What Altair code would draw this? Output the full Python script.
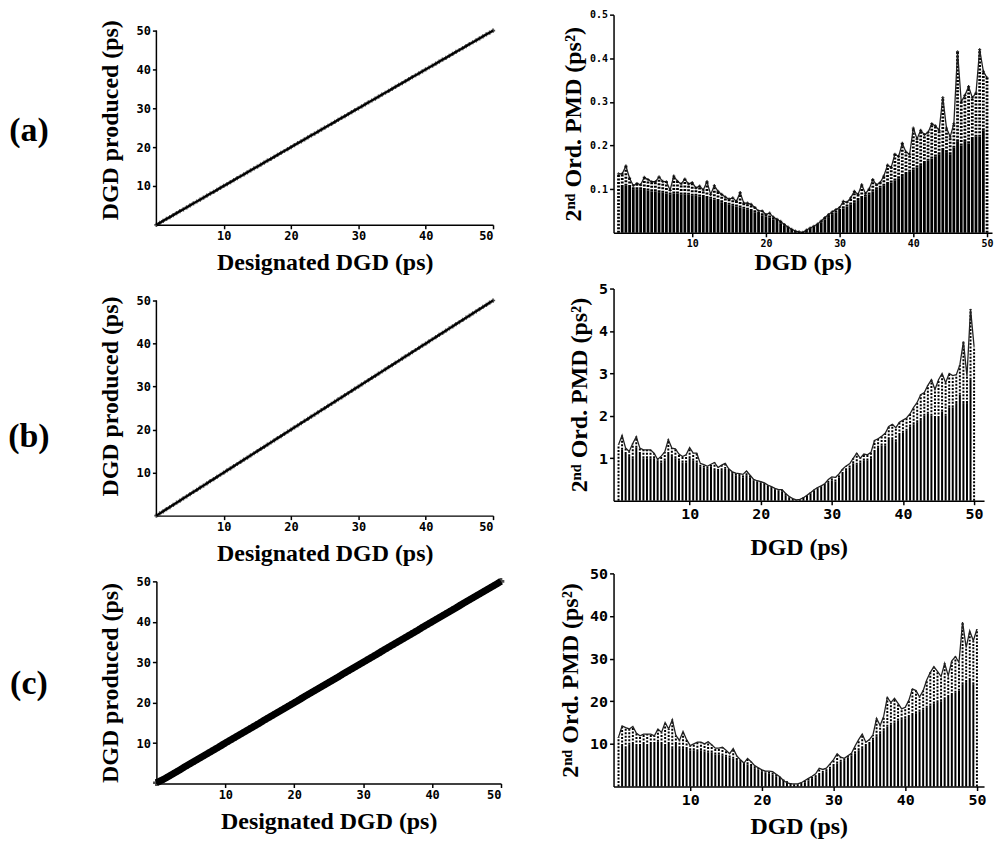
import altair as alt
import pandas as pd

# ---- shared DGD grid (ps) ----
dgd_grid = [0.0, 0.5, 1.0, 1.5, 2.0, 2.5, 3.0, 3.5, 4.0, 4.5, 5.0, 5.5, 6.0, 6.5, 7.0, 7.5, 8.0, 8.5, 9.0, 9.5,
            10.0, 10.5, 11.0, 11.5, 12.0, 12.5, 13.0, 13.5, 14.0, 14.5, 15.0, 15.5, 16.0, 16.5, 17.0, 17.5, 18.0, 18.5, 19.0, 19.5,
            20.0, 20.5, 21.0, 21.5, 22.0, 22.5, 23.0, 23.5, 24.0, 24.5, 25.0, 25.5, 26.0, 26.5, 27.0, 27.5, 28.0, 28.5, 29.0, 29.5,
            30.0, 30.5, 31.0, 31.5, 32.0, 32.5, 33.0, 33.5, 34.0, 34.5, 35.0, 35.5, 36.0, 36.5, 37.0, 37.5, 38.0, 38.5, 39.0, 39.5,
            40.0, 40.5, 41.0, 41.5, 42.0, 42.5, 43.0, 43.5, 44.0, 44.5, 45.0, 45.5, 46.0, 46.5, 47.0, 47.5, 48.0, 48.5, 49.0, 49.5, 50.0]

# ---- left panels: DGD produced vs designated ----
produced_a = [0.0, 0.5, 1.0, 1.5, 2.0, 2.5, 3.0, 3.5, 4.0, 4.5, 5.0, 5.5, 6.0, 6.5, 7.0, 7.5, 8.0, 8.5, 9.0, 9.5,
              10.0, 10.5, 11.0, 11.5, 12.0, 12.5, 13.0, 13.5, 14.0, 14.5, 15.0, 15.5, 16.0, 16.5, 17.0, 17.5, 18.0, 18.5, 19.0, 19.5,
              20.0, 20.5, 21.0, 21.5, 22.0, 22.5, 23.0, 23.5, 24.0, 24.5, 25.0, 25.5, 26.0, 26.5, 27.0, 27.5, 28.0, 28.5, 29.0, 29.5,
              30.0, 30.5, 31.0, 31.5, 32.0, 32.5, 33.0, 33.5, 34.0, 34.5, 35.0, 35.5, 36.0, 36.5, 37.0, 37.5, 38.0, 38.5, 39.0, 39.5,
              40.0, 40.5, 41.0, 41.5, 42.0, 42.5, 43.0, 43.5, 44.0, 44.5, 45.0, 45.5, 46.0, 46.5, 47.0, 47.5, 48.0, 48.5, 49.0, 49.5, 50.0]
produced_b = [0.0, 0.5, 1.0, 1.5, 2.0, 2.5, 3.0, 3.5, 4.0, 4.5, 5.0, 5.5, 6.0, 6.5, 7.0, 7.5, 8.0, 8.5, 9.0, 9.5,
              10.0, 10.5, 11.0, 11.5, 12.0, 12.5, 13.0, 13.5, 14.0, 14.5, 15.0, 15.5, 16.0, 16.5, 17.0, 17.5, 18.0, 18.5, 19.0, 19.5,
              20.0, 20.5, 21.0, 21.5, 22.0, 22.5, 23.0, 23.5, 24.0, 24.5, 25.0, 25.5, 26.0, 26.5, 27.0, 27.5, 28.0, 28.5, 29.0, 29.5,
              30.0, 30.5, 31.0, 31.5, 32.0, 32.5, 33.0, 33.5, 34.0, 34.5, 35.0, 35.5, 36.0, 36.5, 37.0, 37.5, 38.0, 38.5, 39.0, 39.5,
              40.0, 40.5, 41.0, 41.5, 42.0, 42.5, 43.0, 43.5, 44.0, 44.5, 45.0, 45.5, 46.0, 46.5, 47.0, 47.5, 48.0, 48.5, 49.0, 49.5, 50.0]
produced_c = [0.2, 0.6, 1.0, 1.5, 2.0, 2.5, 3.0, 3.5, 4.0, 4.5, 5.0, 5.5, 6.0, 6.5, 7.0, 7.5, 8.0, 8.5, 9.0, 9.5,
              10.0, 10.5, 11.0, 11.5, 12.0, 12.5, 13.0, 13.5, 14.0, 14.5, 15.0, 15.5, 16.0, 16.5, 17.0, 17.5, 18.0, 18.5, 19.0, 19.5,
              20.0, 20.5, 21.0, 21.5, 22.0, 22.5, 23.0, 23.5, 24.0, 24.5, 25.0, 25.5, 26.0, 26.5, 27.0, 27.5, 28.0, 28.5, 29.0, 29.5,
              30.0, 30.5, 31.0, 31.5, 32.0, 32.5, 33.0, 33.5, 34.0, 34.5, 35.0, 35.5, 36.0, 36.5, 37.0, 37.5, 38.0, 38.5, 39.0, 39.5,
              40.0, 40.5, 41.0, 41.5, 42.0, 42.5, 43.0, 43.5, 44.0, 44.5, 45.0, 45.5, 46.0, 46.5, 47.0, 47.5, 48.0, 48.5, 49.0, 49.5, 50.0]

# ---- right panels: 2nd order PMD, maximum (envelope) and bulk of the samples ----
env_a = [0.135, 0.135, 0.153, 0.125, 0.108, 0.113, 0.110, 0.127, 0.122, 0.117, 0.117, 0.128, 0.118, 0.117, 0.098, 0.130,
         0.118, 0.112, 0.123, 0.112, 0.115, 0.103, 0.107, 0.098, 0.117, 0.088, 0.108, 0.095, 0.088, 0.082, 0.077, 0.080,
         0.072, 0.092, 0.068, 0.068, 0.065, 0.058, 0.050, 0.050, 0.042, 0.045, 0.036, 0.031, 0.026, 0.019, 0.013, 0.008,
         0.004, 0.002, 0.001, 0.006, 0.011, 0.015, 0.020, 0.027, 0.035, 0.042, 0.048, 0.053, 0.058, 0.072, 0.070, 0.080,
         0.095, 0.088, 0.110, 0.090, 0.100, 0.122, 0.110, 0.115, 0.130, 0.155, 0.150, 0.180, 0.175, 0.205, 0.185, 0.180,
         0.240, 0.215, 0.235, 0.225, 0.230, 0.250, 0.245, 0.235, 0.310, 0.240, 0.220, 0.250, 0.415, 0.300, 0.315, 0.335,
         0.310, 0.320, 0.420, 0.370, 0.355]
bulk_a = [0.0, 0.105, 0.108, 0.105, 0.100, 0.100, 0.100, 0.098, 0.097, 0.095, 0.095, 0.093, 0.092, 0.090, 0.088,
          0.090, 0.090, 0.088, 0.088, 0.087, 0.085, 0.085, 0.083, 0.082, 0.080, 0.078,
          0.076, 0.073, 0.070, 0.066, 0.064, 0.062, 0.060, 0.058, 0.055, 0.053, 0.050, 0.047, 0.043,
          0.040, 0.037, 0.035, 0.030, 0.027, 0.022, 0.017, 0.012, 0.007, 0.004, 0.002, 0.001,
          0.005, 0.010, 0.014, 0.018, 0.024, 0.030, 0.036, 0.041, 0.046, 0.050,
          0.056, 0.060, 0.065, 0.070, 0.075, 0.080, 0.083, 0.088, 0.095, 0.100,
          0.103, 0.108, 0.112, 0.115, 0.120, 0.125, 0.130, 0.135, 0.140, 0.145,
          0.150, 0.155, 0.160, 0.165, 0.170, 0.175, 0.180, 0.190, 0.185, 0.180,
          0.195, 0.210, 0.200, 0.210, 0.205, 0.215, 0.220, 0.220, 0.235, 0.0]

env_b = [1.32, 1.54, 1.24, 1.16, 1.35, 1.51, 1.24, 1.20, 1.20, 1.20, 1.12, 0.97, 1.05, 1.15, 1.44, 1.24, 1.22, 1.10, 1.04, 1.08,
         1.25, 1.12, 1.12, 0.88, 0.85, 0.81, 0.86, 0.90, 0.78, 0.84, 0.88, 0.75, 0.68, 0.65, 0.64, 0.62, 0.70, 0.60, 0.50, 0.47,
         0.45, 0.42, 0.37, 0.33, 0.29, 0.26, 0.26, 0.17, 0.10, 0.05, 0.02,
         0.03, 0.07, 0.13, 0.19, 0.26, 0.31, 0.35, 0.40, 0.50, 0.56,
         0.55, 0.63, 0.74, 0.82, 0.87, 1.00, 1.12, 1.00, 1.10, 1.08,
         1.14, 1.42, 1.46, 1.52, 1.59, 1.75, 1.80, 1.72, 1.85, 1.90,
         1.95, 2.05, 2.20, 2.32, 2.50, 2.55, 2.72, 2.85, 2.62, 2.85,
         3.00, 2.78, 3.00, 2.95, 2.97, 3.20, 3.75, 2.93, 4.52, 3.63]
bulk_b = [0.0, 1.20, 1.10, 1.05, 1.00, 1.25, 1.10, 1.00, 1.00, 1.00, 1.00,
          0.95, 0.90, 0.95, 1.10, 1.05, 1.00, 0.95, 0.90, 0.90, 1.00,
          0.95, 0.90, 0.80, 0.78, 0.75, 0.80, 0.72, 0.70, 0.72, 0.75,
          0.70, 0.65, 0.60, 0.58, 0.55, 0.60, 0.55, 0.48, 0.45, 0.43,
          0.40, 0.36, 0.32, 0.27, 0.24, 0.22, 0.13, 0.08, 0.04, 0.01,
          0.02, 0.08, 0.13, 0.17, 0.24, 0.28, 0.33, 0.37, 0.42, 0.48,
          0.45, 0.55, 0.63, 0.72, 0.78, 0.88, 0.85, 0.90, 0.95, 0.95,
          1.00, 1.15, 1.25, 1.30, 1.30, 1.45, 1.45, 1.40, 1.55, 1.60,
          1.65, 1.75, 1.80, 1.85, 1.90, 2.00, 2.05, 2.00, 1.95, 1.95,
          2.10, 2.00, 2.20, 2.20, 2.30, 2.50, 2.30, 2.30, 2.85, 0.0]

env_c = [11.6, 14.2, 13.8, 13.5, 14.1, 12.5, 11.9, 12.3, 12.3, 12.3, 11.9, 13.5, 12.7, 15.0, 13.5, 15.7, 12.0, 10.8, 12.9, 11.0,
         9.6, 10.0, 10.4, 10.4, 10.0, 10.5, 9.8, 9.0, 9.0, 9.2, 8.5, 7.7, 8.9, 7.2, 6.3, 5.5, 6.6, 5.8, 4.9, 4.4,
         3.9, 3.6, 3.6, 3.5, 2.9, 2.3, 1.4, 0.9, 0.6, 0.6, 0.6, 0.9, 1.4, 1.9, 2.4, 3.0, 4.3, 4.0, 4.3, 5.3,
         6.3, 7.7, 6.9, 6.6, 7.2, 7.8, 9.5, 11.0, 12.3, 10.4, 11.0, 12.1, 16.0, 14.3, 16.5, 20.9, 19.7, 20.7, 19.5, 18.2,
         18.6, 20.2, 22.9, 22.5, 21.0, 22.5, 25.0, 26.8, 28.1, 27.0, 25.8, 28.9, 26.0, 29.5, 30.5, 29.1, 38.6, 32.6, 36.5, 34.2, 36.9]
bulk_c = [0.0, 9.5, 9.0, 9.8, 10.0, 9.5, 9.5, 10.0, 9.5, 10.0, 10.0,
          10.5, 10.0, 9.5, 10.0, 9.0, 10.0, 9.0, 9.0, 8.8, 8.5,
          8.5, 8.3, 8.5, 8.2, 8.0, 8.0, 7.5, 7.5, 7.3, 7.0,
          6.8, 6.5, 6.2, 5.8, 5.5, 5.2, 4.8, 4.3, 4.0, 3.6,
          3.3, 3.0, 2.8, 2.4, 2.0, 1.6, 1.2, 0.8, 0.5, 0.4,
          0.6, 1.0, 1.4, 1.8, 2.2, 2.7, 3.2, 3.6, 4.2, 4.8,
          5.4, 5.8, 6.2, 6.8, 7.3, 7.8, 8.5, 9.0, 9.5, 10.0,
          11.0, 11.8, 12.5, 13.2, 14.0, 14.5, 15.0, 15.5, 15.8, 16.0,
          16.3, 16.8, 17.2, 17.6, 18.0, 18.5, 19.0, 19.5, 19.8, 20.0,
          20.5, 21.0, 21.5, 22.0, 22.5, 24.0, 24.5, 25.0, 24.0, 0.0]

tick_vals = [10, 20, 30, 40, 50]
panel_labels = ["(a)", "(b)", "(c)"]

SERIF = "Liberation Serif"
MONO = "DejaVu Sans Mono"


def left_panel(produced, label, width, height, band, label_y, ymax=50, own_axis_line=False):
    df = pd.DataFrame({"designated": dgd_grid, "produced": produced})
    x = alt.X("designated:Q", scale=alt.Scale(domain=[0, 50], nice=False),
              axis=alt.Axis(values=tick_vals, title="Designated DGD (ps)", titlePadding=9))
    yaxis_kw = dict(values=tick_vals, title="DGD produced (ps)", titlePadding=14)
    if own_axis_line:
        yaxis_kw["domain"] = False
    y = alt.Y("produced:Q", scale=alt.Scale(domain=[0, ymax], nice=False), axis=alt.Axis(**yaxis_kw))
    base = alt.Chart(df)
    line = base.mark_line(color="black", strokeWidth=band).encode(x=x, y=y)
    pts = base.mark_point(shape="cross", filled=True, color="black", size=18 if band < 3 else 45).encode(x=x, y=y)
    lab = alt.Chart(pd.DataFrame({"t": [label]})).mark_text(
        font=SERIF, fontWeight="bold", fontSize=34, align="center", baseline="middle", color="black"
    ).encode(text="t:N", x=alt.value(-128), y=alt.value(label_y))
    layers = [line, pts, lab]
    if own_axis_line:
        # y-axis line drawn only up to the top tick (50 ps)
        layers.append(alt.Chart(pd.DataFrame({"k": [0]})).mark_rule(color="black", strokeWidth=1.5).encode(
            x=alt.datum(0), y=alt.datum(0), y2=alt.datum(50)))
    return alt.layer(*layers).properties(width=width, height=height)


def right_panel(env, bulk, ymax, yticks, xmax, width, height, lsize, bar_w, fmt, ypad, xpad, marks):
    df = pd.DataFrame({"dgd": dgd_grid, "env": env, "bulk": bulk})
    x = alt.X("dgd:Q", scale=alt.Scale(domain=[0, xmax], nice=False),
              axis=alt.Axis(values=tick_vals, title="DGD (ps)", labelFontSize=lsize, titlePadding=xpad))
    yscale = alt.Scale(domain=[0, ymax], nice=False)
    yaxis = alt.Axis(values=yticks, title="2ⁿᵈ Ord. PMD (ps²)", labelFontSize=lsize, format=fmt, titlePadding=ypad)
    base = alt.Chart(df)
    bars = base.mark_bar(color="black", size=bar_w).encode(
        x=x, y=alt.Y("bulk:Q", scale=yscale, axis=yaxis))
    spread = base.mark_rule(color="black", strokeWidth=bar_w, strokeDash=[2, 1.5]).encode(
        x=x, y=alt.Y("bulk:Q", scale=yscale, axis=yaxis), y2="env:Q")
    env_line = base.mark_line(color="#222222", strokeWidth=1.3).encode(
        x=x, y=alt.Y("env:Q", scale=yscale, axis=yaxis))
    layers = [bars, spread, env_line]
    if marks:
        layers.append(base.mark_point(shape="cross", filled=True, color="black", size=10).encode(
            x=x, y=alt.Y("env:Q", scale=yscale, axis=yaxis)))
    return alt.layer(*layers).properties(width=width, height=height)


left_col = alt.vconcat(
    left_panel(produced_a, panel_labels[0], 338, 211, 2.0, 117, ymax=54.1, own_axis_line=True),
    left_panel(produced_b, panel_labels[1], 338, 240, 2.0, 161, ymax=55.56, own_axis_line=True),
    left_panel(produced_c, panel_labels[2], 346, 203, 7, 103),
    spacing=2,
)

right_col = alt.vconcat(
    right_panel(env_a, bulk_a, 0.5, [0.1, 0.2, 0.3, 0.4, 0.5], 50.0, 380, 219, 10, 2.8, ".1f", 4, 2, True),
    right_panel(env_b, bulk_b, 5, [1, 2, 3, 4, 5], 50.7, 372, 213, 15, 2.0, "d", 7, 14, False),
    right_panel(env_c, bulk_c, 50, tick_vals, 50.3, 372, 214, 15, 2.0, "d", 7, 7, False),
    spacing=7,
)

chart = alt.hconcat(left_col, right_col, spacing=43).properties(padding=0).configure_view(
    stroke=None
).configure_axis(
    grid=False,
    domainColor="black",
    domainWidth=1.5,
    tickColor="black",
    tickWidth=1.5,
    tickSize=4,
    labelFont=MONO,
    labelFontWeight="bold",
    labelFontSize=12,
    labelColor="black",
    labelPadding=2,
    titleFont=SERIF,
    titleFontWeight="bold",
    titleFontSize=24,
    titleColor="black",
)

chart.save("out.html", embed_options={"renderer": "svg", "actions": False})
